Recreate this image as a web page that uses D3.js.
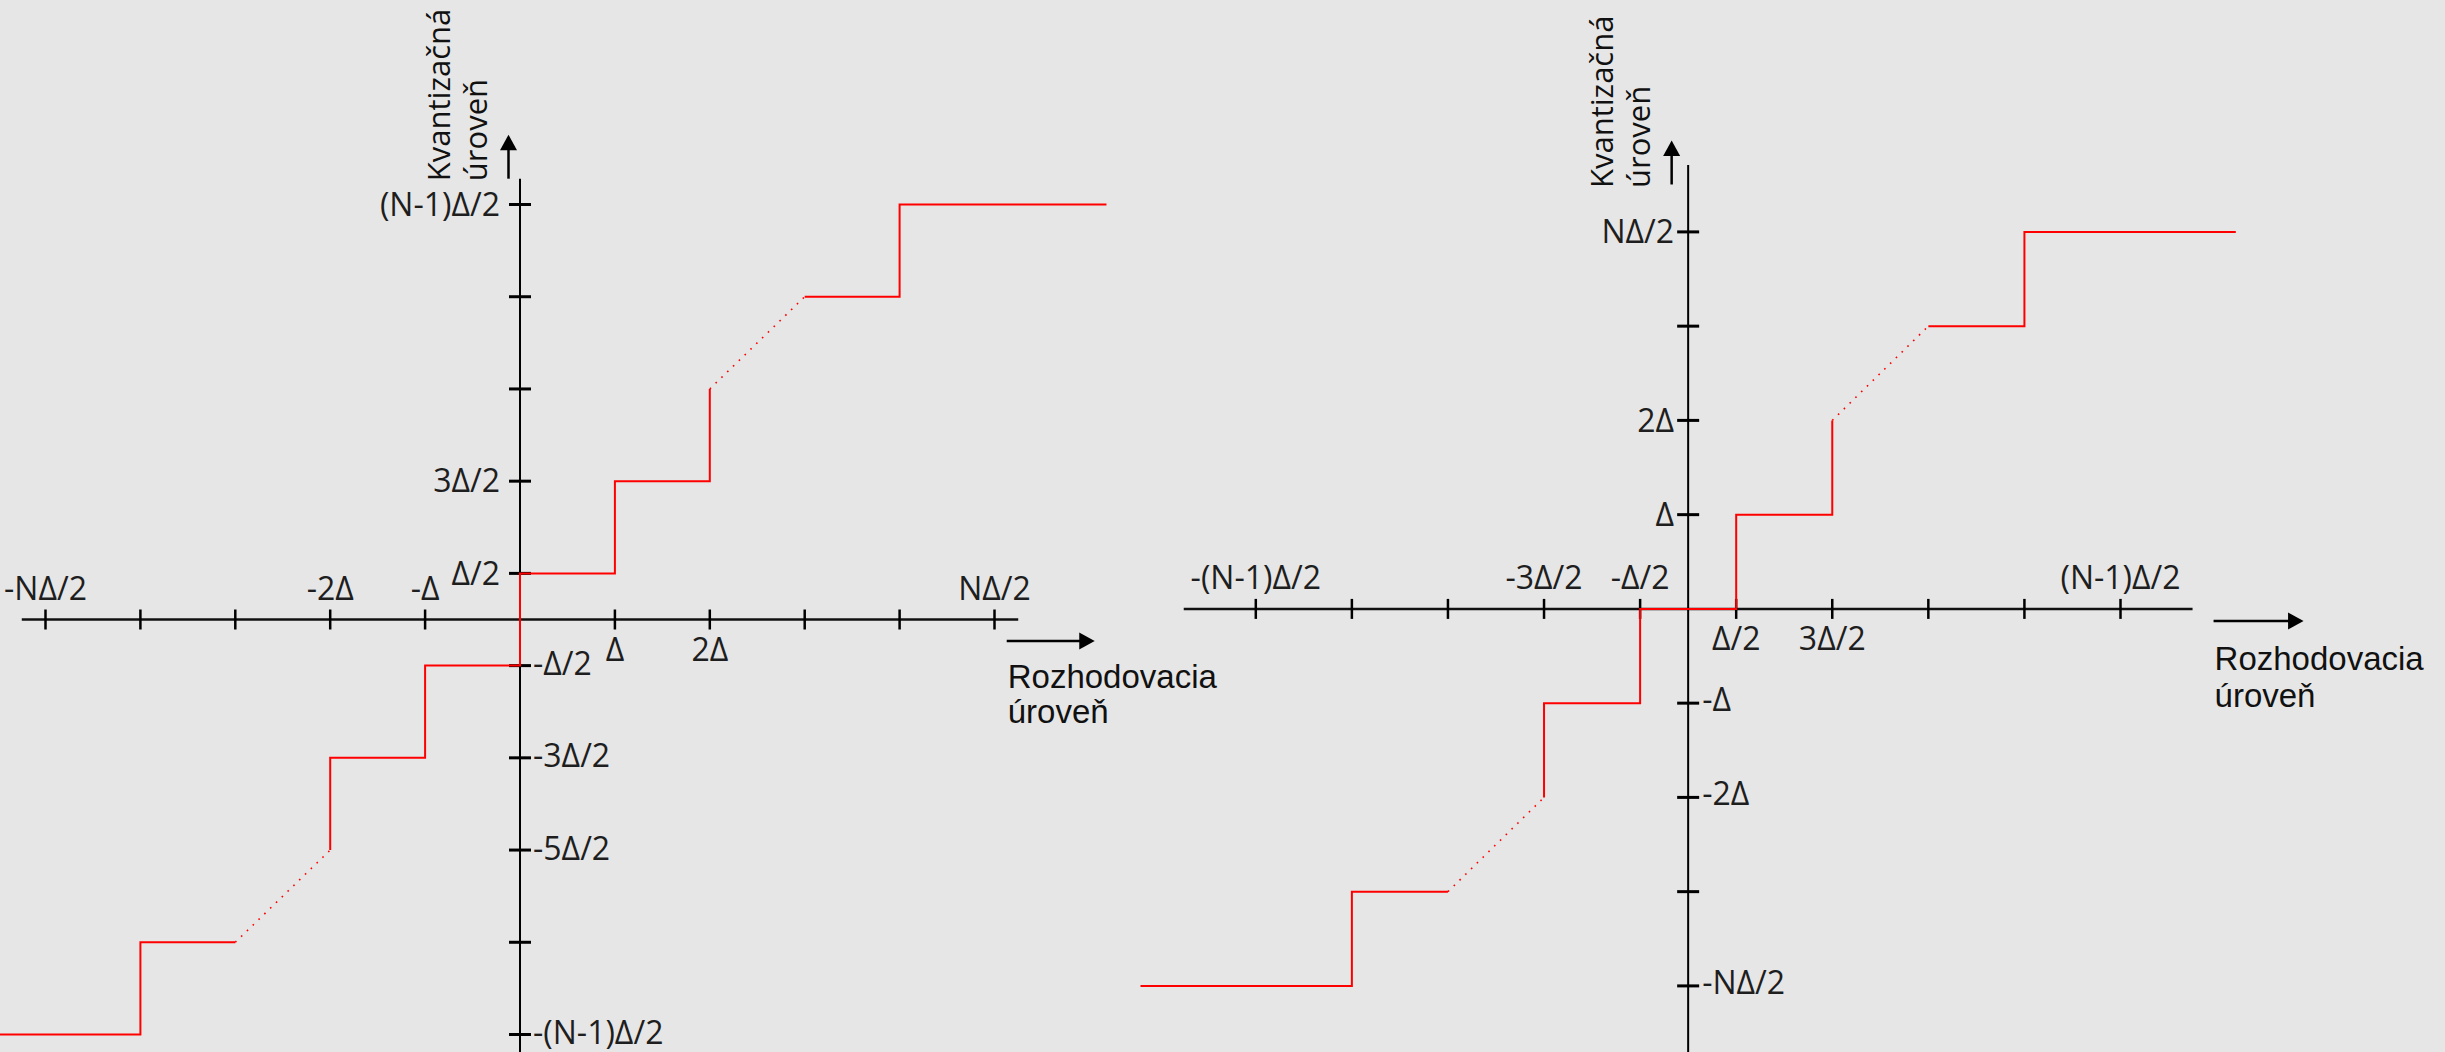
<!DOCTYPE html>
<html>
<head>
<meta charset="utf-8">
<script src="https://cdn.jsdelivr.net/npm/d3@7"></script>
<style>
  body { margin: 0; background: #e7e6e6; }
  svg { display: block; }
  .lbl { font-family: "Open Sans", sans-serif; font-size: 32px; fill: #1e1e1e; }
  .ttl { font-family: "Liberation Sans", Arial, sans-serif; font-size: 33px; fill: #111; }
  .yttl { font-family: "Open Sans", sans-serif; font-size: 31px; fill: #111; }
</style>
</head>
<body>
<svg id="chart" width="2445" height="1052"></svg>
<script>
// all values in units of delta

// left: midrise quantizer
var leftXTicks = [-5, -4, -3, -2, -1, 1, 2, 3, 4, 5]
var leftXLabels = [[-5, "-NΔ/2"], [-2, "-2Δ"], [-1, "-Δ"], [1, "Δ"], [2, "2Δ"], [5, "NΔ/2"]]
var leftYTicks = [-4.5, -3.5, -2.5, -1.5, -0.5, 0.5, 1.5, 2.5, 3.5, 4.5]
var leftYLabels = [[4.5, "(N-1)Δ/2"], [1.5, "3Δ/2"], [0.5, "Δ/2"], [-0.5, "-Δ/2"], [-1.5, "-3Δ/2"], [-2.5, "-5Δ/2"], [-4.5, "-(N-1)Δ/2"]]
var leftSolid = [
  [[-5.49, -4.5], [-4, -4.5], [-4, -3.5], [-3, -3.5]],
  [[-2, -2.5], [-2, -1.5], [-1, -1.5], [-1, -0.5], [0, -0.5], [0, 0.5], [1, 0.5], [1, 1.5], [2, 1.5], [2, 2.5]],
  [[3, 3.5], [4, 3.5], [4, 4.5], [6.18, 4.5]]
]
var leftDotted = [[[-3, -3.5], [-2, -2.5]], [[2, 2.5], [3, 3.5]]]

// right: midtread quantizer
var rightXTicks = [-4.5, -3.5, -2.5, -1.5, -0.5, 0.5, 1.5, 2.5, 3.5, 4.5]
var rightXLabels = [[-4.5, "-(N-1)Δ/2"], [-1.5, "-3Δ/2"], [-0.5, "-Δ/2"], [0.5, "Δ/2"], [1.5, "3Δ/2"], [4.5, "(N-1)Δ/2"]]
var rightYTicks = [-4, -3, -2, -1, 1, 2, 3, 4]
var rightYLabels = [[4, "NΔ/2"], [2, "2Δ"], [1, "Δ"], [-1, "-Δ"], [-2, "-2Δ"], [-4, "-NΔ/2"]]
var rightSolid = [
  [[-5.7, -4], [-3.5, -4], [-3.5, -3], [-2.5, -3]],
  [[-1.5, -2], [-1.5, -1], [-0.5, -1], [-0.5, 0], [0.5, 0], [0.5, 1], [1.5, 1], [1.5, 2]],
  [[2.5, 3], [3.5, 3], [3.5, 4], [5.7, 4]]
]
var rightDotted = [[[-2.5, -3], [-1.5, -2]], [[1.5, 2], [2.5, 3]]]

var yTitle = ["Kvantizačná", "úroveň"]
var xTitle = ["Rozhodovacia", "úroveň"]

var svg = d3.select("#chart")

function arrowHead(g, tx, ty, dir) {
  // dir: "up" or "right", tip at tx,ty
  var p = dir == "up"
    ? [[tx, ty], [tx - 8.5, ty + 15.5], [tx + 8.5, ty + 15.5]]
    : [[tx, ty], [tx - 15.5, ty - 8.5], [tx - 15.5, ty + 8.5]]
  g.append("path").attr("d", "M" + p.join("L") + "Z").attr("fill", "#000")
}

function drawPanel(p) {
  var g = svg.append("g")
  var x = d3.scaleLinear().domain(p.xDomain).range(p.xRange)
  var y = d3.scaleLinear().domain(p.yDomain).range(p.yRange)
  var x0 = x(0), y0 = y(0)

  // axes
  g.append("line").attr("x1", x(p.xExtent[0])).attr("x2", x(p.xExtent[1]))
    .attr("y1", y0).attr("y2", y0).attr("stroke", "#111").attr("stroke-width", 2.5)
  g.append("line").attr("x1", x0).attr("x2", x0)
    .attr("y1", y(p.yExtent[1])).attr("y2", y(p.yExtent[0])).attr("stroke", "#000").attr("stroke-width", 2)

  g.selectAll(".xt").data(p.xTicks).enter().append("line")
    .attr("x1", d => x(d)).attr("x2", d => x(d))
    .attr("y1", y0 - 10).attr("y2", y0 + 10)
    .attr("stroke", "#000").attr("stroke-width", 2.5)
  g.selectAll(".yt").data(p.yTicks).enter().append("line")
    .attr("x1", x0 - 11).attr("x2", x0 + 11)
    .attr("y1", d => y(d)).attr("y2", d => y(d))
    .attr("stroke", "#000").attr("stroke-width", 3)

  // tick labels
  g.selectAll(".xl").data(p.xLabels).enter().append("text")
    .attr("class", "lbl").attr("text-anchor", "middle")
    .attr("x", d => x(d[0]))
    .attr("y", d => p.xBelow(d[0]) ? y0 + 41 : y0 - 20)
    .text(d => d[1])
  g.selectAll(".yl").data(p.yLabels).enter().append("text")
    .attr("class", "lbl")
    .attr("text-anchor", d => d[0] > 0 ? "end" : "start")
    .attr("x", d => d[0] > 0 ? x0 - p.yLabelGapL : x0 + p.yLabelGapR)
    .attr("y", d => y(d[0]))
    .attr("dy", d => d[0] > 0 ? "0.35em" : p.yLabelDyR)
    .text(d => d[1])

  // quantizer curve
  var line = d3.line().x(d => x(d[0])).y(d => y(d[1]))
  g.selectAll(".solid").data(p.solid).enter().append("path")
    .attr("d", line).attr("fill", "none").attr("stroke", "#ff0000").attr("stroke-width", 2)
  g.selectAll(".dotted").data(p.dotted).enter().append("path")
    .attr("d", line).attr("fill", "none").attr("stroke", "#ff0000")
    .attr("stroke-width", 1.6).attr("stroke-dasharray", "1.6,6.5")

  // arrows
  var xa = p.xArrow, ya = p.yArrow
  var xEnd = x(p.xExtent[1]), yTop = y(p.yExtent[1])
  g.append("line").attr("x1", xEnd + xa.start).attr("x2", xEnd + xa.start + xa.len - 14)
    .attr("y1", y0 + xa.dy).attr("y2", y0 + xa.dy).attr("stroke", "#000").attr("stroke-width", 2.5)
  arrowHead(g, xEnd + xa.start + xa.len, y0 + xa.dy, "right")
  g.append("line").attr("x1", x0 + ya.dx).attr("x2", x0 + ya.dx)
    .attr("y1", yTop + ya.start).attr("y2", yTop + ya.start - ya.len + 14)
    .attr("stroke", "#000").attr("stroke-width", 2.5)
  arrowHead(g, x0 + ya.dx, yTop + ya.start - ya.len, "up")

  // titles
  xTitle.forEach(function(t, i) {
    g.append("text").attr("class", "ttl")
      .attr("x", xEnd + xa.start + 1).attr("y", y0 + p.xTitleDy[i]).text(t)
  })
  yTitle.forEach(function(t, i) {
    var tx = x0 + p.yTitleDx[i], ty = yTop + p.yTitleDy
    g.append("text").attr("class", "yttl")
      .attr("transform", "translate(" + tx + "," + ty + ") rotate(-90)").text(t)
  })
}

drawPanel({
  xDomain: [-5, 5], xRange: [45.5, 994.5],
  yDomain: [-4.5, 4.5], yRange: [1034.5, 204.5],
  xExtent: [-5.25, 5.25], yExtent: [-4.8, 4.78],
  xTicks: leftXTicks, yTicks: leftYTicks, xLabels: leftXLabels, yLabels: leftYLabels,
  xBelow: function(v) { return v > 0 && v < 5 },
  yLabelGapL: 20, yLabelGapR: 13, yLabelDyR: "0.3em",
  solid: leftSolid, dotted: leftDotted,
  xArrow: { start: -11.5, len: 88, dy: 21.5 },
  yArrow: { dx: -11.5, start: 0, len: 44 },
  xTitleDy: [68.5, 103],
  yTitleDx: [-70, -33], yTitleDy: 2.5
})

drawPanel({
  xDomain: [-4.5, 4.5], xRange: [1255.8, 2120.5],
  yDomain: [-4, 4], yRange: [985.9, 231.9],
  xExtent: [-5.25, 5.25], yExtent: [-4.8, 4.71],
  xTicks: rightXTicks, yTicks: rightYTicks, xLabels: rightXLabels, yLabels: rightYLabels,
  xBelow: function(v) { return v > 0 && v < 4.5 },
  yLabelGapL: 14, yLabelGapR: 14, yLabelDyR: "0.25em",
  solid: rightSolid, dotted: rightDotted,
  xArrow: { start: 21, len: 90, dy: 12 },
  yArrow: { dx: -16.5, start: 19.5, len: 44 },
  xTitleDy: [61, 98.5],
  yTitleDx: [-75, -38], yTitleDy: 23
})
</script>
</body>
</html>
